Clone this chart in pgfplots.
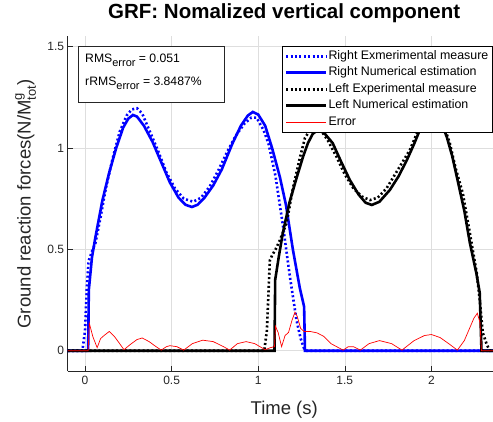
\documentclass[border=0pt]{standalone}
\usepackage{pgfplots}
\pgfplotsset{compat=1.18}
\usepackage{amsmath}
\usepackage{fontspec}
\setmainfont{Liberation Sans}
\definecolor{axgray}{gray}{0.15}
\definecolor{gridgray}{gray}{0.87}
\begin{document}
\begin{tikzpicture}
\begin{axis}[name=ax,scale only axis,width=433pt,height=334.5pt,
  xmin=-0.1,xmax=2.4,ymin=-0.1,ymax=1.55,
  xtick={0,0.5,1,1.5,2},ytick={0,0.5,1,1.5},
  axis x line=bottom,axis y line=left,axis line style={-,axgray,line width=0.6pt},
  tick align=inside,major tick length=5pt,tick style={axgray,line width=0.6pt},
  grid=major,grid style={gridgray,line width=0.5pt},
  ticklabel style={font=\fontsize{12}{14}\selectfont,text=axgray},
  xticklabel style={yshift=-2pt},
  /pgf/number format/assume math mode=true,
  title={GRF: Nomalized vertical component},
  title style={font=\bfseries\fontsize{20.5}{24}\selectfont,at={(0.5,1.0344)},anchor=base},
  xlabel={Time (s)},
  xlabel style={font=\fontsize{18.5}{22}\selectfont,text=axgray,at={(0.5,-0.1286)},anchor=base},
  ylabel={Ground reaction forces(N/M$_{\text{tot}}^{\text{g}}$)},
  ylabel style={font=\fontsize{18.5}{22}\selectfont,text=axgray,at={(-0.0855,0.5)},anchor=base},
  legend cell align=left,
  legend style={at={(0.9815,0.9716)},anchor=north east,line width=0.6pt,
    font=\fontsize{12.4}{14}\selectfont,row sep=2.5pt,inner xsep=3pt,inner ysep=3pt,
    nodes={inner sep=1pt,text height=9pt,text depth=3pt}},
  legend image code/.code={\draw[#1] (0pt,0pt) -- (40pt,0pt);},
]
% right foot, experimental
\addplot[draw=blue,line width=2.6pt,dash pattern=on 2pt off 2.4pt] coordinates {
(-0.1,0)(-0.015,0)(0.0,0.10)(0.01,0.30)(0.02,0.44)(0.04,0.49)(0.06,0.53)(0.09,0.66)
(0.12,0.80)(0.16,0.95)(0.20,1.08)(0.24,1.16)(0.27,1.19)(0.30,1.196)(0.33,1.17)(0.37,1.09)
(0.42,0.99)(0.47,0.88)(0.52,0.80)(0.57,0.75)(0.625,0.735)(0.67,0.755)(0.72,0.81)(0.77,0.89)
(0.82,0.98)(0.87,1.06)(0.92,1.12)(0.96,1.15)(0.99,1.15)(1.03,1.09)(1.06,1.02)(1.10,0.86)
(1.144,0.61)(1.183,0.365)(1.221,0.151)(1.245,0.06)(1.265,0.01)(1.28,0)(2.4,0)};
% right foot, numerical
\addplot[draw=blue,line width=2.6pt] coordinates {
(-0.1,0)(0.018,0)(0.022,0.30)(0.04,0.46)(0.06,0.56)(0.08,0.65)(0.10,0.74)(0.14,0.88)
(0.18,1.00)(0.22,1.10)(0.25,1.145)(0.277,1.163)(0.30,1.155)(0.34,1.11)(0.39,1.03)(0.44,0.93)
(0.49,0.83)(0.54,0.755)(0.58,0.72)(0.617,0.709)(0.65,0.72)(0.69,0.755)(0.74,0.815)(0.79,0.895)
(0.85,1.02)(0.90,1.11)(0.94,1.16)(0.969,1.178)(1.00,1.165)(1.04,1.11)(1.08,1.00)(1.125,0.857)
(1.16,0.72)(1.20,0.50)(1.24,0.31)(1.265,0.217)(1.27,0)(2.4,0)};
% left foot, experimental
\addplot[draw=black,line width=2.6pt,dash pattern=on 2pt off 2.4pt] coordinates {
(-0.1,0)(1.035,0)(1.05,0.10)(1.06,0.30)(1.067,0.446)(1.08,0.47)(1.10,0.50)(1.125,0.545)
(1.164,0.63)(1.20,0.80)(1.24,0.95)(1.27,1.05)(1.30,1.09)(1.327,1.10)(1.36,1.09)(1.40,1.04)
(1.45,0.96)(1.50,0.87)(1.55,0.80)(1.60,0.76)(1.645,0.743)(1.69,0.755)(1.74,0.80)(1.79,0.87)
(1.84,0.94)(1.875,0.99)(1.92,1.08)(1.96,1.14)(2.00,1.17)(2.04,1.15)(2.08,1.09)(2.106,1.024)
(2.14,0.90)(2.181,0.777)(2.22,0.59)(2.262,0.382)(2.28,0.24)(2.297,0.087)(2.32,0.03)(2.337,0)(2.4,0)};
% left foot, numerical
\addplot[draw=black,line width=2.6pt] coordinates {
(-0.1,0)(1.094,0)(1.098,0.35)(1.12,0.47)(1.142,0.58)(1.18,0.73)(1.223,0.857)(1.26,0.96)
(1.287,1.024)(1.315,1.07)(1.345,1.089)(1.38,1.075)(1.43,1.024)(1.48,0.93)(1.529,0.842)(1.58,0.77)
(1.62,0.73)(1.656,0.719)(1.70,0.735)(1.76,0.793)(1.81,0.86)(1.858,0.94)(1.90,1.02)(1.933,1.089)
(1.97,1.14)(2.01,1.17)(2.05,1.14)(2.089,1.054)(2.12,0.96)(2.147,0.857)(2.19,0.69)(2.222,0.532)
(2.26,0.38)(2.279,0.285)(2.289,0)(2.4,0)};
% error
\addplot[draw=red,line width=0.7pt] coordinates {
(-0.1,0)(0.018,0)(0.025,0.135)(0.045,0.07)(0.07,0.015)(0.09,0.06)(0.11,0.075)(0.14,0.095)
(0.17,0.07)(0.20,0.035)(0.225,0.005)(0.26,0.03)(0.30,0.055)(0.33,0.063)(0.37,0.045)(0.41,0.02)
(0.44,0.003)(0.47,0.02)(0.49,0.025)(0.53,0.02)(0.57,0.003)(0.62,0.035)(0.68,0.052)(0.74,0.045)
(0.80,0.02)(0.835,0.003)(0.88,0.035)(0.93,0.045)(0.98,0.035)(1.04,0.005)(1.07,0.015)(1.094,0.02)
(1.10,0.12)(1.115,0.09)(1.135,0.02)(1.155,0.075)(1.175,0.09)(1.195,0.15)(1.212,0.19)(1.225,0.17)
(1.245,0.11)(1.265,0.095)(1.30,0.095)(1.34,0.088)(1.38,0.07)(1.42,0.035)(1.49,0.003)(1.52,0.02)
(1.55,0.02)(1.59,0.003)(1.64,0.035)(1.70,0.05)(1.77,0.035)(1.83,0.003)(1.90,0.05)(1.96,0.075)
(2.00,0.08)(2.05,0.065)(2.10,0.035)(2.15,0.003)(2.19,0.05)(2.22,0.11)(2.245,0.16)(2.265,0.185)
(2.28,0.14)(2.289,0)(2.4,0)};
\legend{Right Exmerimental measure,Right Numerical estimation,Left Experimental measure,Left Numerical estimation,Error}
\draw[axgray,line width=0.6pt,fill=white] (axis cs:-0.0404,1.503) rectangle (axis cs:0.802,1.227);
\node[anchor=base west,inner sep=0pt,font=\fontsize{12.2}{14}\selectfont] at (axis cs:0,1.424)
  {RMS\raisebox{-4pt}{\fontsize{11}{12}\selectfont error} = 0.051};
\node[anchor=base west,inner sep=0pt,font=\fontsize{12.2}{14}\selectfont] at (axis cs:0,1.306)
  {rRMS\raisebox{-4pt}{\fontsize{11}{12}\selectfont error} = 3.8487\%};
\end{axis}
\pgfresetboundingbox
\path (ax.south west) ++(-67.7pt,-50pt) rectangle ++(493pt,421pt);
\end{tikzpicture}
\end{document}
